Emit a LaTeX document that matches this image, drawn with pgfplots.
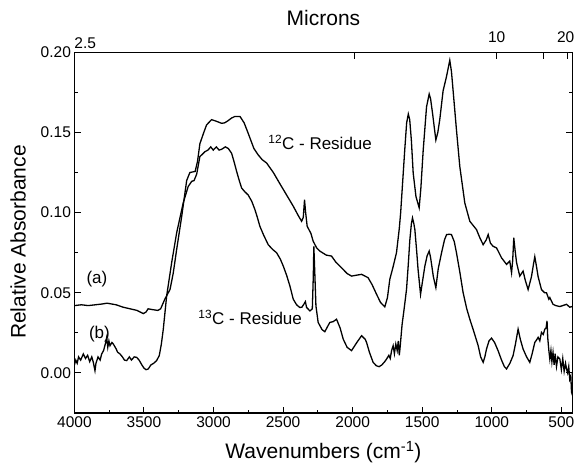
\documentclass[border=0pt]{standalone}
\usepackage{pgfplots}
\pgfplotsset{compat=1.18}
\usepackage{fontspec}
\setmainfont{Liberation Sans}

\pgfplotstableread{
w v
4000 0.042
3950 0.0425
3900 0.042
3850 0.0425
3800 0.043
3765 0.0435
3700 0.0425
3650 0.041
3600 0.040
3550 0.039
3505 0.037
3485 0.038
3470 0.040
3440 0.0395
3400 0.039
3380 0.040
3350 0.046
3313 0.052
3290 0.062
3265 0.077
3229 0.0975
3193 0.120
3170 0.125
3132 0.1257
3115 0.132
3098 0.143
3070 0.150
3050 0.1547
3014 0.158
2980 0.157
2942 0.1557
2920 0.156
2896 0.1573
2870 0.159
2846 0.160
2810 0.160
2780 0.156
2751 0.1495
2710 0.140
2679 0.136
2650 0.133
2619 0.131
2570 0.125
2523 0.118
2475 0.111
2427 0.104
2390 0.098
2367 0.0946
2355 0.097
2346 0.108
2338 0.100
2327 0.0915
2300 0.087
2284 0.0822
2259 0.078
2236 0.076
2190 0.0735
2152 0.0729
2120 0.069
2080 0.0656
2040 0.062
2008 0.0604
1970 0.061
1936 0.0615
1889 0.0594
1860 0.055
1828 0.049
1800 0.044
1769 0.0412
1750 0.047
1733 0.0584
1710 0.066
1685 0.075
1665 0.090
1655 0.100
1640 0.120
1625 0.140
1612 0.156
1600 0.1615
1590 0.158
1578 0.145
1565 0.1247
1545 0.110
1522 0.103
1510 0.115
1493 0.139
1469 0.166
1450 0.174
1440 0.171
1426 0.162
1402 0.1453
1388 0.150
1374 0.158
1350 0.176
1326 0.1847
1302 0.195
1290 0.188
1278 0.176
1254 0.1516
1230 0.1288
1194 0.106
1158 0.0946
1110 0.0894
1086 0.0843
1062 0.080
1040 0.083
1026 0.0863
1010 0.081
991 0.079
966 0.078
930 0.0718
894 0.0677
871 0.0698
858 0.0625
850 0.070
842 0.0843
832 0.076
822 0.0688
799 0.0604
775 0.0635
760 0.058
739 0.052
715 0.060
700 0.068
691 0.0725
680 0.067
667 0.060
643 0.052
620 0.050
607 0.050
590 0.046
583 0.047
560 0.0428
540 0.042
511 0.0414
490 0.042
463 0.0428
440 0.041
420 0.0415
}\tablea

\pgfplotstableread{
w v
4000 0.005
3990 0.008
3980 0.006
3970 0.010
3955 0.008
3936 0.0118
3920 0.009
3905 0.011
3890 0.007
3875 0.010
3864 0.0066
3852 0.0014
3845 0.006
3830 0.010
3815 0.008
3804 0.0118
3790 0.014
3775 0.019
3768 0.022
3760 0.016
3752 0.020
3744 0.017
3730 0.019
3720 0.018
3700 0.015
3690 0.013
3672 0.0118
3655 0.010
3640 0.008
3624 0.0077
3605 0.010
3590 0.008
3570 0.010
3552 0.0097
3535 0.008
3515 0.005
3500 0.003
3485 0.002
3469 0.0025
3450 0.005
3430 0.006
3409 0.0077
3390 0.0108
3375 0.018
3361 0.0273
3337 0.048
3301 0.0687
3265 0.0874
3218 0.106
3182 0.1163
3157 0.1195
3140 0.120
3121 0.124
3098 0.135
3085 0.136
3062 0.138
3040 0.139
3020 0.141
3002 0.139
2980 0.141
2960 0.139
2942 0.1395
2915 0.141
2894 0.140
2870 0.137
2850 0.131
2834 0.1257
2815 0.120
2798 0.1153
2775 0.113
2751 0.111
2725 0.107
2703 0.102
2685 0.097
2667 0.0915
2640 0.086
2607 0.080
2575 0.077
2547 0.075
2520 0.071
2499 0.0667
2475 0.061
2451 0.0542
2427 0.046
2403 0.0425
2380 0.0408
2365 0.041
2351 0.0428
2340 0.0445
2331 0.0408
2307 0.0387
2290 0.040
2283 0.060
2279 0.079
2272 0.062
2264 0.0418
2248 0.0315
2220 0.027
2200 0.0257
2180 0.029
2164 0.0315
2140 0.032
2116 0.0335
2090 0.028
2068 0.0211
2040 0.016
2008 0.0139
1970 0.019
1936 0.0232
1910 0.021
1900 0.019
1880 0.013
1853 0.0066
1830 0.0045
1810 0.0039
1790 0.005
1770 0.007
1756 0.0087
1740 0.011
1730 0.009
1720 0.014
1709 0.017
1700 0.012
1690 0.018
1680 0.014
1672 0.020
1665 0.011
1660 0.015
1645 0.030
1630 0.040
1613 0.052
1600 0.068
1589 0.083
1578 0.093
1570 0.0967
1560 0.093
1553 0.0894
1540 0.076
1530 0.0646
1512 0.049
1500 0.056
1481 0.0667
1465 0.073
1450 0.076
1440 0.072
1420 0.060
1402 0.0532
1385 0.065
1361 0.075
1340 0.083
1325 0.0863
1305 0.0865
1290 0.0863
1270 0.082
1254 0.075
1230 0.063
1206 0.050
1180 0.040
1158 0.0335
1130 0.026
1098 0.017
1080 0.010
1062 0.0066
1050 0.010
1038 0.0149
1020 0.020
1002 0.0217
980 0.019
955 0.0139
930 0.008
910 0.004
894 0.0025
870 0.006
847 0.0108
830 0.018
811 0.0273
795 0.021
775 0.0149
750 0.010
727 0.0066
710 0.012
691 0.019
675 0.021
667 0.0222
655 0.020
643 0.0253
630 0.024
619 0.0273
610 0.028
603 0.0325
598 0.022
590 0.014
583 0.0087
575 0.014
568 0.007
560 0.0128
552 0.005
545 0.012
535 0.004
525 0.010
511 0.0087
500 0.002
490 0.009
480 0.001
470 0.006
463 0.0025
455 0.000
447 0.004
440 -0.004
432 -0.002
427 -0.012
420 -0.014
}\tableb

\begin{document}
\begin{tikzpicture}
\pgfplotsset{
  base/.style={
    at={(0,0)}, anchor=south west,
    width=498.1bp, height=360.7bp, scale only axis,
    x dir=reverse, xmin=420, xmax=4000,
    ymin=-0.025, ymax=0.20,
    axis line style={line width=1.2bp},
    tick style={line width=1bp, black},
    tick align=inside,
    major tick length=6.5bp, minor tick length=3.5bp,
    ticklabel style={font=\fontsize{15.5bp}{18bp}\selectfont},
    /pgf/number format/assume math mode=true,
  }
}
\begin{axis}[base,
  xtick={4000,3500,...,500}, minor x tick num=1,
  xtick pos=lower, ytick pos=both, yticklabel pos=left,
  ytick={0,0.05,0.1,0.15,0.2}, minor y tick num=1,
  yticklabel style={/pgf/number format/.cd, fixed, fixed zerofill, precision=2},
  xticklabel style={/pgf/number format/.cd, 1000 sep={}},
  scaled y ticks=false,
  xlabel={Wavenumbers (cm\textsuperscript{-1})},
  ylabel={Relative Absorbance},
  label style={font=\fontsize{21bp}{24bp}\selectfont},
  xlabel style={at={(axis description cs:0.5,-0.1081)}, anchor=center},
  ylabel style={at={(axis description cs:-0.1132,0.474)}, anchor=center},
]
\addplot[black, line width=1.3bp] table[x=w, y=v] {\tablea};
\addplot[black, line width=1.3bp] table[x=w, y=v] {\tableb};
\node[font=\fontsize{17bp}{20bp}\selectfont, anchor=center] at (axis cs:3838,0.0588) {(a)};
\node[font=\fontsize{17bp}{20bp}\selectfont, anchor=center] at (axis cs:3820,0.0245) {(b)};
\node[font=\fontsize{17bp}{20bp}\selectfont, anchor=west, inner sep=0pt] at (axis cs:2607,0.1436) {\textsuperscript{12}C - Residue};
\node[font=\fontsize{17bp}{20bp}\selectfont, anchor=west, inner sep=0pt] at (axis cs:3110,0.0345) {\textsuperscript{13}C - Residue};
\end{axis}
\begin{axis}[base,
  hide y axis,
  xtick pos=upper, xticklabel pos=upper,
  xtick={4000,1985,965,625,455},
  xticklabels={\hphantom{2.5}2.5,,\raisebox{6bp}{10},,\raisebox{6bp}{20\hspace{4bp}}},
  minor x tick num=0,
  xlabel={Microns},
  label style={font=\fontsize{21bp}{24bp}\selectfont},
  xlabel style={at={(axis description cs:0.5,1.0951)}, anchor=center},
]
\end{axis}
\pgfresetboundingbox
\path (-74.4bp,-56bp) rectangle (499.6bp,413bp);
\end{tikzpicture}
\end{document}
